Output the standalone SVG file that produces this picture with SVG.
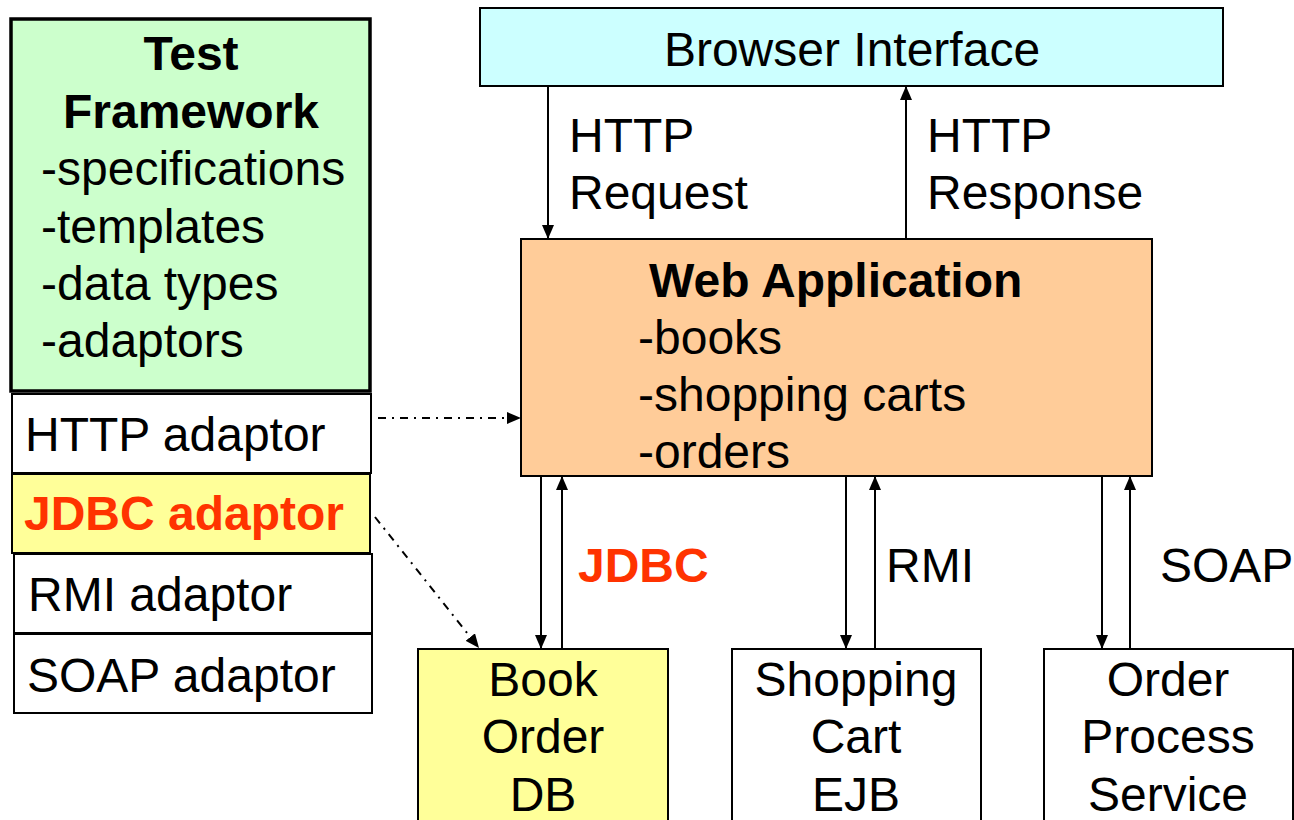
<svg xmlns="http://www.w3.org/2000/svg" width="1294" height="820" viewBox="0 0 1294 820">
<style>
text{font-family:"Liberation Sans",Arial,sans-serif;font-size:48px;fill:#000}
.b{font-weight:bold}
.red{fill:#FF3300;font-weight:bold}
.box{stroke:#000;stroke-width:2}
.c{text-anchor:middle}
.ln{stroke:#000;stroke-width:2;fill:none}
.dd{stroke:#000;stroke-width:2;fill:none;stroke-dasharray:8 6 2 6}
</style>
<defs>
<marker id="ah" viewBox="0 0 14 12" refX="14" refY="6" markerWidth="14" markerHeight="12" markerUnits="userSpaceOnUse" orient="auto">
<path d="M0,0 L14,6 L0,12 z" fill="#000"/>
</marker>
</defs>
<g id="test-framework">
<rect x="11" y="19" width="359" height="372" fill="#CCFFCC" stroke="#000" stroke-width="3.5"/>
<text class="b c" x="191" y="70">Test</text>
<text class="b c" x="191" y="128">Framework</text>
<text x="41" y="185">-specifications</text>
<text x="41" y="243">-templates</text>
<text x="41" y="300">-data types</text>
<text x="41" y="357">-adaptors</text>
</g>
<g id="http-adaptor">
<rect class="box" x="12" y="394" width="359" height="79" fill="#fff"/>
<text x="25" y="451">HTTP adaptor</text>
</g>
<g id="jdbc-adaptor">
<rect class="box" x="12" y="474" width="358" height="79" fill="#FFFF99"/>
<text class="red" x="24" y="530">JDBC adaptor</text>
</g>
<g id="rmi-adaptor">
<rect class="box" x="14" y="554" width="358" height="79" fill="#fff"/>
<text x="28" y="611">RMI adaptor</text>
</g>
<g id="soap-adaptor">
<rect class="box" x="14" y="634" width="358" height="79" fill="#fff"/>
<text x="27" y="692">SOAP adaptor</text>
</g>
<g id="browser-interface">
<rect class="box" x="480" y="8" width="743" height="78" fill="#CCFFFF"/>
<text class="c" x="852" y="66">Browser Interface</text>
</g>
<g id="web-application">
<rect class="box" x="521" y="239" width="631" height="237" fill="#FFCC99"/>
<text class="b" x="649" y="297">Web Application</text>
<text x="638" y="354">-books</text>
<text x="638" y="411">-shopping carts</text>
<text x="638" y="468">-orders</text>
</g>
<g id="book-order-db">
<rect class="box" x="418" y="649" width="250" height="180" fill="#FFFF99"/>
<text class="c" x="543" y="696">Book</text>
<text class="c" x="543" y="753">Order</text>
<text class="c" x="543" y="811">DB</text>
</g>
<g id="shopping-cart-ejb">
<rect class="box" x="732" y="649" width="249" height="180" fill="#fff"/>
<text class="c" x="856" y="696">Shopping</text>
<text class="c" x="856" y="753">Cart</text>
<text class="c" x="856" y="811">EJB</text>
</g>
<g id="order-process-service">
<rect class="box" x="1044" y="649" width="249" height="180" fill="#fff"/>
<text class="c" x="1168" y="696">Order</text>
<text class="c" x="1168" y="753">Process</text>
<text class="c" x="1168" y="811">Service</text>
</g>
<g id="connectors">
<line class="ln" x1="548" y1="86" x2="548" y2="239" marker-end="url(#ah)"/>
<line class="ln" x1="906" y1="239" x2="906" y2="86" marker-end="url(#ah)"/>
<line class="ln" x1="541" y1="476" x2="541" y2="649" marker-end="url(#ah)"/>
<line class="ln" x1="562" y1="649" x2="562" y2="476" marker-end="url(#ah)"/>
<line class="ln" x1="846" y1="476" x2="846" y2="649" marker-end="url(#ah)"/>
<line class="ln" x1="875" y1="649" x2="875" y2="476" marker-end="url(#ah)"/>
<line class="ln" x1="1102" y1="476" x2="1102" y2="649" marker-end="url(#ah)"/>
<line class="ln" x1="1130" y1="649" x2="1130" y2="476" marker-end="url(#ah)"/>
<line class="dd" x1="378" y1="418" x2="521" y2="418" marker-end="url(#ah)"/>
<line class="dd" x1="375" y1="517" x2="479" y2="648" marker-end="url(#ah)"/>
<text x="569" y="152">HTTP</text>
<text x="569" y="209">Request</text>
<text x="927" y="152">HTTP</text>
<text x="927" y="209">Response</text>
<text class="red" x="578" y="582">JDBC</text>
<text x="886" y="582">RMI</text>
<text x="1160" y="582">SOAP</text>
</g>
</svg>
